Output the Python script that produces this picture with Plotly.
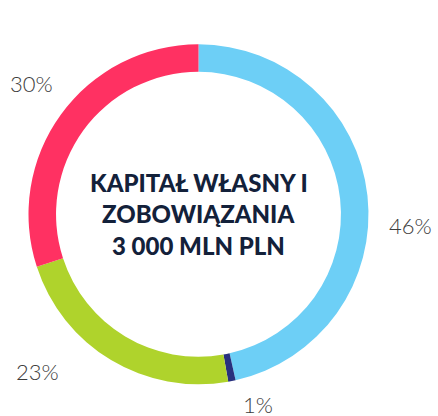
import plotly.graph_objects as go

labels = ["Kapitał własny A", "Kapitał własny B", "Zobowiązania A", "Zobowiązania B"]
values = [46.5, 0.7, 22.8, 30.0]
pct_labels = ["46%", "1%", "23%", "30%"]
colors = ["#6DCFF6", "#28317E", "#AFD32C", "#FF3162"]
center_lines = ["KAPITAŁ WŁASNY I", "ZOBOWIĄZANIA", "3 000 MLN PLN"]

W, H = 438, 416
cx, cy, R = 198.5, 214.3, 170.0

fig = go.Figure(go.Pie(
    labels=labels,
    values=values,
    sort=False,
    direction="clockwise",
    rotation=0,
    hole=0.838,
    textinfo="none",
    hoverinfo="label+percent",
    marker=dict(colors=colors, line=dict(width=0)),
    domain=dict(x=[(cx - R) / W, (cx + R) / W], y=[1 - (cy + R) / H, 1 - (cy - R) / H]),
    showlegend=False,
))

# label anchor positions (pixels) for the percentage labels
label_pos = [(410.5, 225), (257.5, 404.5), (37.5, 371), (31, 83.5)]
ann = []
for t, (px, py) in zip(pct_labels, label_pos):
    ann.append(dict(x=px / W, y=1 - py / H, xref="paper", yref="paper", text=t,
                    showarrow=False, xanchor="center", yanchor="middle",
                    font=dict(family="Lato", size=22, color="#3c3c3c", weight=300)))

line_y = [182, 214, 245.5]
for t, py in zip(center_lines, line_y):
    ann.append(dict(x=cx / W, y=1 - py / H, xref="paper", yref="paper", text=t,
                    showarrow=False, xanchor="center", yanchor="middle",
                    font=dict(family="Lato", size=24, color="#13213A", weight=900)))

fig.update_layout(
    width=W, height=H,
    margin=dict(l=0, r=0, t=0, b=0),
    paper_bgcolor="white", plot_bgcolor="white",
    annotations=ann,
)
fig.write_html("out.html", config={"displayModeBar": False},
               post_script="document.body.style.margin='0';")
